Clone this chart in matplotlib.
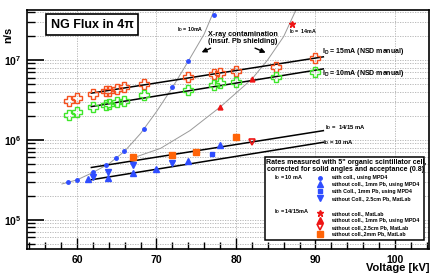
import numpy as np
import matplotlib
matplotlib.use('Agg')
import matplotlib.pyplot as plt
from matplotlib.ticker import LogLocator, MultipleLocator, FuncFormatter, NullFormatter
from matplotlib.patches import Rectangle
from matplotlib.lines import Line2D

# NSD manual values (open crosses)
kv_nsd = [59.0, 60.0, 62.0, 63.6, 64.0, 65.0, 65.9, 68.4, 74.0, 77.3, 78.0, 80.0, 85.0, 89.9]
rate_15ma = [3.07e6, 3.3e6, 3.73e6, 4.06e6, 4.1e6, 4.3e6, 4.6e6, 5.0e6, 6.1e6, 6.7e6, 6.9e6, 7.35e6, 8.25e6, 1.04e7]
rate_10ma = [2.05e6, 2.22e6, 2.56e6, 2.76e6, 2.84e6, 2.99e6, 3.07e6, 3.58e6, 4.18e6, 4.91e6, 5.11e6, 5.26e6, 6.13e6, 7.14e6]

# measured, I_D = 10 mA
kv_coll = [58.9, 60.0, 62.0, 63.6, 64.9, 65.9, 68.4, 72.0, 74.0, 77.2]
rate_coll = [2.96e5, 3.16e5, 3.98e5, 4.77e5, 5.9e5, 7.14e5, 1.37e6, 4.56e6, 9.8e6, 3.65e7]
kv_nocoll_1mm = [61.4, 63.9, 67.0, 70.0, 74.0, 78.0]
rate_nocoll_1mm = [3.23e5, 3.3e5, 3.83e5, 4.34e5, 5.35e5, 8.66e5]
kv_coll_1mm = [77.0]
rate_coll_1mm = [6.68e5]
kv_nocoll_25cm = [62.0, 63.9, 67.0, 72.0]
rate_nocoll_25cm = [3.42e5, 4.0e5, 4.77e5, 5.11e5]

# measured, I_D = 14/15 mA
kv_h_nocoll = [87.0]
rate_h_nocoll = [2.82e7]
kv_h_1mm = [78.0, 82.0]
rate_h_1mm = [2.56e6, 5.74e6]
kv_h_25cm = [82.0]
rate_h_25cm = [9.5e5]
kv_h_2mm = [67.0, 72.0, 75.0, 80.0]
rate_h_2mm = [6.08e5, 6.5e5, 7.08e5, 1.09e6]

# exponential fit lines (end values)
fit_kv = [61.8, 91.0]
fit_15ma = [3.83e6, 1.09e7]
fit_10ma = [2.6e6, 7.7e6]
fit_1415 = [4.5e5, 1.3e6]
fit_10 = [3.16e5, 9.3e5]

# x-ray contamination curves
xr10_kv = [58.1, 60.0, 62.0, 64.0, 66.0, 68.0, 70.0, 72.0, 74.0, 76.0, 77.6]
xr10_rate = [2.8e5, 3.15e5, 3.9e5, 5.0e5, 7.2e5, 1.2e6, 2.25e6, 4.5e6, 9.6e6, 2.1e7, 5.0e7]
xr14_kv = [67.2, 70.5, 74.2, 78.0, 82.0, 84.0, 86.0, 87.9]
xr14_rate = [6.0e5, 7.8e5, 1.3e6, 2.56e6, 5.74e6, 1.0e7, 1.95e7, 5.0e7]

plt.rcParams['font.family'] = ['Liberation Sans', 'DejaVu Sans']
plt.rcParams['font.weight'] = 'bold'
plt.rcParams['mathtext.fontset'] = 'custom'
plt.rcParams['mathtext.rm'] = 'Liberation Sans:bold'
plt.rcParams['mathtext.it'] = 'Liberation Sans:bold'
plt.rcParams['mathtext.bf'] = 'Liberation Sans:bold'

red_c = '#f5501e'
green_c = '#3ee62a'
blue_c = '#2f4dff'
orange_c = '#ff6408'
star_c = '#ee1515'
grey = '#9a9a9a'

fig = plt.figure(figsize=(4.36, 2.78), dpi=100)
ax = fig.add_axes([27/436, 29/278, 402/436, 239/278])
ax.set_yscale('log')
ax.set_xlim(53.7, 104.3)
ax.set_ylim(4.3e4, 4.2e7)

# grid
ax.grid(which='major', axis='x', color='#b0b0b0', ls=(0, (1.5, 1.5)), lw=0.6)
ax.grid(which='both', axis='y', color='#b0b0b0', ls=(0, (1.5, 1.5)), lw=0.6)

# grey x-ray curves
ax.plot(xr10_kv, xr10_rate, color=grey, lw=0.7)
ax.plot(xr14_kv, xr14_rate, color=grey, lw=0.7)

# fit lines
for f in [fit_15ma, fit_10ma, fit_1415, fit_10]:
    ax.plot(fit_kv, f, color='black', lw=1.1)

ax.plot(kv_nsd, rate_15ma, ls='none', marker='P', ms=6.8, mfc='none', mec=red_c, mew=1.0)
ax.plot(kv_nsd, rate_10ma, ls='none', marker='P', ms=6.8, mfc='none', mec=green_c, mew=1.0)

ax.plot(kv_coll, rate_coll, ls='none', marker='o', ms=2.5, color=blue_c)
ax.plot(kv_nocoll_1mm, rate_nocoll_1mm, ls='none', marker='^', ms=4, color=blue_c)
ax.plot(kv_coll_1mm, rate_coll_1mm, ls='none', marker='s', ms=3.5, color=blue_c)
ax.plot(kv_nocoll_25cm, rate_nocoll_25cm, ls='none', marker='v', ms=4, color=blue_c)

ax.plot(kv_h_nocoll, rate_h_nocoll, ls='none', marker='*', ms=5, color=star_c)
ax.plot(kv_h_1mm, rate_h_1mm, ls='none', marker='^', ms=3.5, color=star_c)
ax.plot(kv_h_25cm, rate_h_25cm, ls='none', marker='v', ms=4.5, mfc='none', mec=star_c, mew=1.2)
ax.plot(kv_h_2mm, rate_h_2mm, ls='none', marker='s', ms=4.5, color=orange_c)

# axes style
ax.xaxis.set_major_locator(MultipleLocator(10))
ax.xaxis.set_minor_locator(MultipleLocator(2))
ax.yaxis.set_major_locator(LogLocator(base=10))
ax.yaxis.set_minor_locator(LogLocator(base=10, subs=np.arange(2, 10)))
ax.yaxis.set_minor_formatter(NullFormatter())
ax.yaxis.set_major_formatter(FuncFormatter(lambda v, p: r'$10^{%d}$' % round(np.log10(v))))
ax.tick_params(axis='y', which='major', direction='in', length=12, width=1.2, labelsize=7.5, pad=4)
ax.tick_params(axis='y', which='minor', direction='in', length=6, width=1.0)
ax.tick_params(axis='x', which='major', direction='in', length=8, width=1.0, labelsize=7.5, pad=4)
ax.tick_params(axis='x', which='minor', direction='in', length=5, width=1.0)
for s in ax.spines.values():
    s.set_linewidth(1.2)

ax.set_xlabel('Voltage [kV]', fontsize=8, fontweight='bold', loc='right')
ax.xaxis.set_label_coords(1.0, -0.06)
ax.set_ylabel('n/s', fontsize=8, fontweight='bold')
ax.yaxis.set_label_coords(-0.035, 0.895)

# title box
ax.text(0.1617, 0.9393, 'NG Flux in 4\u03c0', transform=ax.transAxes, fontsize=9, fontweight='bold',
        ha='center', va='center',
        bbox=dict(boxstyle='square,pad=0.35', fc='white', ec='black', lw=1.2))

# annotations
ax.text(0.537, 0.883, 'X-ray contamination\n(insuf. Pb shielding)', transform=ax.transAxes,
        fontsize=5.2, fontweight='bold', ha='center', va='center', linespacing=1.1)
ax.annotate('', xy=(0.428, 0.818), xytext=(0.463, 0.845), xycoords='axes fraction',
            arrowprops=dict(arrowstyle='-|>', color='black', lw=1.0, mutation_scale=7))
ax.annotate('', xy=(0.600, 0.817), xytext=(0.561, 0.845), xycoords='axes fraction',
            arrowprops=dict(arrowstyle='-|>', color='black', lw=1.0, mutation_scale=7))
ax.text(0.373, 0.920, r'I$_{D}$ = 10mA', transform=ax.transAxes, fontsize=3.8, va='center')
ax.text(0.652, 0.908, r'I$_{D}$ =  14mA', transform=ax.transAxes, fontsize=3.8, va='center')
ax.text(0.734, 0.828, r'I$_{D}$ = 15mA (NSD manual)', transform=ax.transAxes, fontsize=5, va='center')
ax.text(0.734, 0.736, r'I$_{D}$ = 10mA (NSD manual)', transform=ax.transAxes, fontsize=5, va='center')
ax.text(0.741, 0.510, r'I$_{D}$ =  14/15 mA', transform=ax.transAxes, fontsize=4.2, va='center')
ax.text(0.736, 0.444, r'I$_{D}$ = 10 mA', transform=ax.transAxes, fontsize=4.2, va='center')

# legend box
ax.add_patch(Rectangle((0.592, 0.038), 0.395, 0.347, transform=ax.transAxes, fc='white',
                       ec='black', lw=1.1, zorder=5))
ax.text(0.793, 0.363, 'Rates measured with 5" organic scintillator cell,', transform=ax.transAxes,
        fontsize=5, ha='center', va='center', zorder=6)
ax.text(0.793, 0.331, 'corrected for solid angles and acceptance (0.8)', transform=ax.transAxes,
        fontsize=5, ha='center', va='center', zorder=6)
ax.text(0.614, 0.298, r'I$_{D}$ = 10 mA', transform=ax.transAxes, fontsize=4, va='center', zorder=6)
ax.text(0.614, 0.156, r'I$_{D}$ = 14/15mA', transform=ax.transAxes, fontsize=4, va='center', zorder=6)

entries = [
    (0.298, dict(marker='o', ms=2.5, color=blue_c), 'with coll., using MPD4'),
    (0.270, dict(marker='^', ms=4, color=blue_c), 'without coll., 1mm Pb, using MPD4'),
    (0.241, dict(marker='s', ms=3.5, color=blue_c), 'with Coll., 1mm Pb, using MPD4'),
    (0.212, dict(marker='v', ms=4, color=blue_c), 'without Coll., 2.5cm Pb, MatLab'),
    (0.149, dict(marker='*', ms=5, color=star_c), 'without coll., MatLab'),
    (0.120, dict(marker='^', ms=4, color=star_c), 'without coll., 1mm Pb, using MPD4'),
    (0.091, dict(marker='v', ms=4.5, mfc='none', mec=star_c, mew=1.2), 'without coll.,2.5cm Pb, MatLab'),
    (0.063, dict(marker='s', ms=4.5, color=orange_c), 'without coll.,2mm Pb, MatLab'),
]
for y, style, label in entries:
    ax.add_line(Line2D([0.729], [y], transform=ax.transAxes, ls='none', zorder=6, **style))
    ax.text(0.756, y, label, transform=ax.transAxes, fontsize=3.8, va='center', zorder=6)

fig.savefig('out.png', dpi=100)
